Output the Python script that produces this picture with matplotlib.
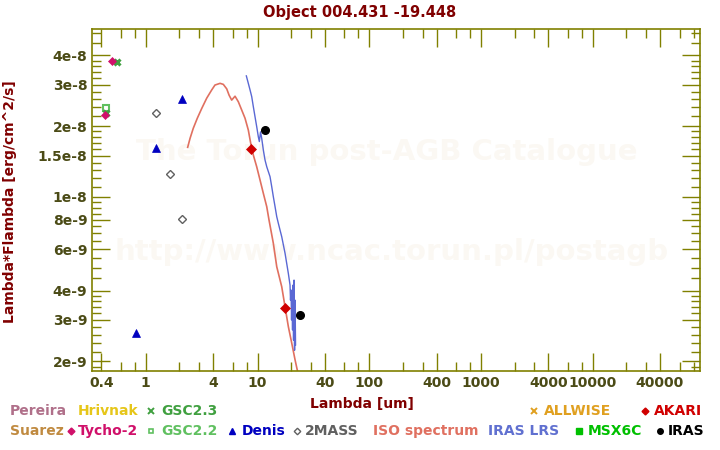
import matplotlib
matplotlib.use("Agg")
import matplotlib.pyplot as plt
from matplotlib.lines import Line2D

# ---------------- data ----------------
tycho_x = [0.43, 0.495]
tycho_y = [2.22e-8, 3.79e-8]
gsc23_x = [0.436, 0.552]
gsc23_y = [2.28e-8, 3.73e-8]
gsc22_x = [0.443]
gsc22_y = [2.39e-8]
denis_x = [0.817, 1.234, 2.11]
denis_y = [2.65e-9, 1.61e-8, 2.62e-8]
twomass_x = [1.24, 1.66, 2.12]
twomass_y = [2.27e-8, 1.247e-8, 8.09e-9]
akari_x = [8.80, 17.7]
akari_y = [1.593e-8, 3.36e-9]
iras_x = [11.7, 24.2]
iras_y = [1.92e-8, 3.15e-9]

iso_x = [2.37, 2.49, 2.66, 2.89, 3.17, 3.51, 3.89, 4.16, 4.62, 4.94,
         5.30, 5.56, 5.87, 6.29, 6.73, 7.22, 7.73, 8.27, 8.69, 9.17,
         9.83, 10.53, 11.27, 12.09, 12.67, 13.85, 14.86, 16.47, 17.63, 18.87,
         20.24, 21.67, 23.19]
iso_y = [1.625e-8, 1.775e-8, 1.958e-8, 2.16e-8, 2.38e-8, 2.63e-8, 2.85e-8, 2.99e-8, 3.04e-8, 3.01e-8,
         2.88e-8, 2.71e-8, 2.58e-8, 2.68e-8, 2.54e-8, 2.34e-8, 2.16e-8, 1.925e-8, 1.69e-8, 1.507e-8,
         1.344e-8, 1.18e-8, 1.036e-8, 9.09e-9, 7.98e-9, 6.35e-9, 5.05e-9, 4.15e-9, 3.41e-9, 2.81e-9,
         2.39e-9, 2.03e-9, 1.75e-9]

lrs_x = [7.94, 8.27, 8.57, 8.87, 9.17, 9.50, 9.83, 10.17, 10.38, 10.64,
         10.90, 11.27, 11.67, 12.09, 12.94, 13.40, 13.85, 14.35, 14.86, 15.36,
         15.90, 16.47, 17.63, 18.87, 19.54, 19.74, 19.95, 20.16, 20.37, 20.58,
         20.79, 21.01, 21.23, 21.45, 21.67, 21.89]
lrs_y = [3.27e-8, 3.04e-8, 2.85e-8, 2.67e-8, 2.42e-8, 2.19e-8, 1.99e-8, 1.80e-8, 1.72e-8, 1.89e-8,
         1.775e-8, 1.583e-8, 1.435e-8, 1.344e-8, 1.219e-8, 1.105e-8, 1.002e-8, 9.09e-9, 8.24e-9, 7.72e-9,
         7.23e-9, 6.77e-9, 5.76e-9, 4.73e-9, 4.22e-9, 3.64e-9, 4.02e-9, 3.00e-9, 3.83e-9, 2.72e-9,
         4.22e-9, 2.46e-9, 4.43e-9, 2.23e-9, 3.64e-9, 2.35e-9]

x_major = [0.4, 1, 4, 10, 40, 100, 400, 1000, 4000, 10000, 40000]
x_major_labels = ["0.4", "1", "4", "10", "40", "100", "400", "1000", "4000", "10000", "40000"]
x_minor = [0.6, 0.8, 2, 3, 6, 8, 20, 30, 60, 80, 200, 300, 600, 800,
           2000, 3000, 6000, 8000, 20000, 30000, 60000, 80000]
y_major = [2e-9, 3e-9, 4e-9, 6e-9, 8e-9, 1e-8, 1.5e-8, 2e-8, 3e-8, 4e-8]
y_major_labels = ["2e-9", "3e-9", "4e-9", "6e-9", "8e-9", "1e-8", "1.5e-8", "2e-8", "3e-8", "4e-8"]
y_minor = [1.9e-9, 2.2e-9, 2.4e-9, 2.6e-9, 2.8e-9, 3.2e-9, 3.4e-9, 3.6e-9, 3.8e-9,
           4.5e-9, 5e-9, 5.5e-9, 6.5e-9, 7e-9, 7.5e-9, 8.5e-9, 9e-9, 9.5e-9,
           1.1e-8, 1.2e-8, 1.3e-8, 1.4e-8, 1.6e-8, 1.7e-8, 1.8e-8, 1.9e-8,
           2.2e-8, 2.4e-8, 2.6e-8, 2.8e-8, 3.2e-8, 3.4e-8, 3.6e-8, 3.8e-8, 4.5e-8, 5e-8]

# ---------------- style ----------------
plt.rcParams['font.family'] = ['DejaVu Sans']
plt.rcParams['font.weight'] = 'bold'
AX_COL = '#808000'
LAB_COL = '#4b4b16'
TITLE_COL = '#800000'
WM_COL = '#fbf8f3'

fig = plt.figure(figsize=(7.2, 4.5), dpi=100)
W, H = 720.0, 450.0
L, R, T, B = 92.3, 699.7, 29.3, 371.3
ax = fig.add_axes([L / W, 1 - B / H, (R - L) / W, (B - T) / H])
ax.set_xscale('log')
ax.set_yscale('log')
ax.set_xlim(0.332, 9.07e4)
ax.set_ylim(1.814e-9, 5.16e-8)

# watermark
ax.text(0.485, 0.64, "The Torun post-AGB Catalogue", transform=ax.transAxes,
        ha='center', va='center', fontsize=21, color=WM_COL, fontweight='bold', zorder=0)
ax.text(0.492, 0.35, "http://www.ncac.torun.pl/postagb", transform=ax.transAxes,
        ha='center', va='center', fontsize=21, color=WM_COL, fontweight='bold', zorder=0)

# spectra
ax.plot(iso_x, iso_y, color='#e07060', lw=1.2, zorder=2)
ax.plot(lrs_x, lrs_y, color='#5a68d4', lw=1.0, zorder=2)

# photometry
ax.plot(gsc22_x, gsc22_y, ls='none', marker='s', ms=4.5, mfc='none', mec='#60c060', mew=1.5, zorder=3)
ax.plot(gsc23_x, gsc23_y, ls='none', marker='x', ms=5, mec='#40a040', mew=2.2, zorder=3)
ax.plot(tycho_x, tycho_y, ls='none', marker='D', ms=4.5, mfc='#d0106a', mec='#d0106a', mew=0.5, zorder=4)
ax.plot(denis_x, denis_y, ls='none', marker='^', ms=6, mfc='#0000c0', mec='#0000c0', mew=0.5, zorder=3)
ax.plot(twomass_x, twomass_y, ls='none', marker='D', ms=4.2, mfc='white', mec='#606060', mew=1.0, zorder=3)
ax.plot(akari_x, akari_y, ls='none', marker='D', ms=5, mfc='#d00000', mec='#d00000', mew=0.5, zorder=4)
ax.plot(iras_x, iras_y, ls='none', marker='o', ms=5.5, mfc='black', mec='black', zorder=4)

# axes styling
for sp in ax.spines.values():
    sp.set_color(AX_COL)
    sp.set_linewidth(1.2)
ax.set_xticks(x_major)
ax.set_xticklabels(x_major_labels)
ax.set_xticks(x_minor, minor=True)
ax.set_xticklabels([], minor=True)
ax.set_yticks(y_major)
ax.set_yticklabels(y_major_labels)
ax.set_yticks(y_minor, minor=True)
ax.set_yticklabels([], minor=True)
ax.tick_params(which='both', direction='in', top=True, right=True, color=AX_COL,
               labelcolor=LAB_COL, labelsize=10, width=1.0)
ax.tick_params(which='major', length=13.3, pad=3.5)
ax.tick_params(which='minor', length=6.6)
for lab in ax.get_xticklabels() + ax.get_yticklabels():
    lab.set_fontweight('bold')

# titles
fig.text(0.5, 1 - 12 / H, "Object 004.431 -19.448", ha='center', va='center',
         fontsize=10.5, color=TITLE_COL, fontweight='bold')
fig.text(362 / W, 1 - 404 / H, "Lambda [um]", ha='center', va='center',
         fontsize=10, color=TITLE_COL, fontweight='bold')
fig.text(10 / W, 1 - 202 / H, "Lambda*Flambda [erg/cm^2/s]", ha='center', va='center',
         rotation=90, fontsize=10, color=TITLE_COL, fontweight='bold')

# custom legend
def ltext(x, y, s, c):
    fig.text(x / W, 1 - y / H, s, ha='left', va='center', fontsize=10, color=c, fontweight='bold')

def lmark(x, y, m, c, filled=True, ms=3.8, mew=1.0):
    fig.add_artist(Line2D([x / W], [1 - y / H], transform=fig.transFigure, marker=m, ls='none',
                          ms=ms, mfc=(c if filled else 'none'), mec=c, mew=mew))

r1, r2 = 411, 431
ltext(10, r1, "Pereira", '#b0708a')
ltext(78, r1, "Hrivnak", '#e6c619')
lmark(151, r1, 'x', '#40a040', ms=4, mew=1.4)
ltext(161, r1, "GSC2.3", '#40a040')
lmark(534, r1, 'x', '#e0a020', ms=5, mew=1.4)
ltext(544, r1, "ALLWISE", '#e0a020')
lmark(645, r1, 'D', '#d00000', ms=3.5)
ltext(654, r1, "AKARI", '#d00000')

ltext(10, r2, "Suarez", '#c08a40')
lmark(71, r2, 'D', '#d0106a', ms=3.5)
ltext(78, r2, "Tycho-2", '#d0106a')
lmark(151, r2, 's', '#60c060', filled=False, ms=3.5, mew=1.2)
ltext(161, r2, "GSC2.2", '#60c060')
lmark(232, r2, '^', '#0000c0', ms=4)
ltext(242, r2, "Denis", '#0000c0')
lmark(297, r2, 'D', '#606060', filled=False, ms=3.3, mew=1.0)
ltext(305, r2, "2MASS", '#606060')
ltext(373, r2, "ISO spectrum", '#e07060')
ltext(488, r2, "IRAS LRS", '#6070d0')
lmark(579, r2, 's', '#00c000', ms=4)
ltext(588, r2, "MSX6C", '#00c000')
lmark(660, r2, 'o', 'black', ms=4)
ltext(668, r2, "IRAS", 'black')

fig.savefig("out.png", dpi=100)
